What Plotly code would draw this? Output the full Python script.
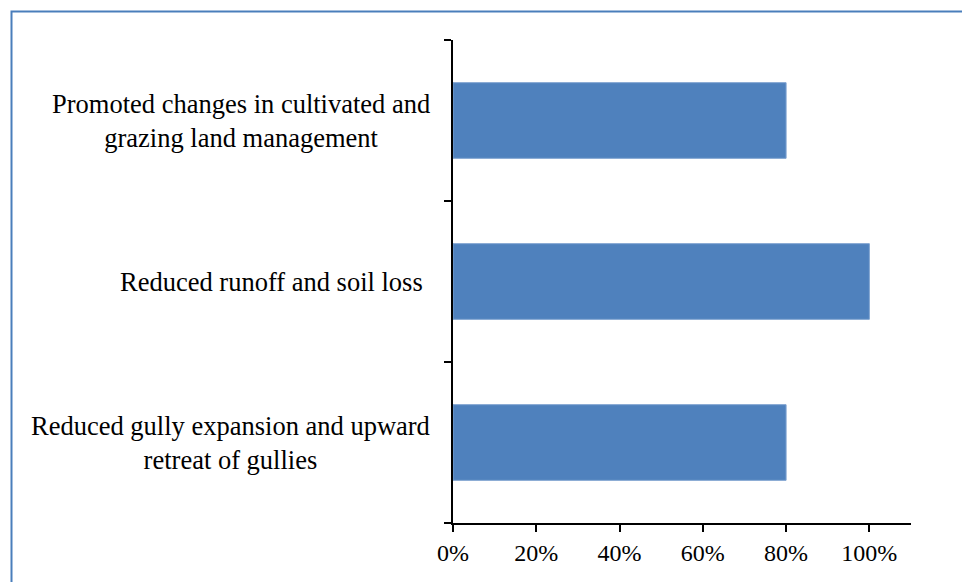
import plotly.graph_objects as go

categories = [
    "Reduced gully expansion and upward<br>retreat of gullies",
    "Reduced runoff and soil loss",
    "Promoted changes in cultivated and<br>grazing land management",
]
values = [0.8, 1.0, 0.8]
x_ticks = [0, 0.2, 0.4, 0.6, 0.8, 1.0]
x_tick_labels = ["0%", "20%", "40%", "60%", "80%", "100%"]

W, H = 962, 582
ML, MR, MT, MB = 453, 51, 40, 59
PW, PH = W - ML - MR, H - MT - MB
FONT = "Liberation Serif, Times New Roman, serif"
label_shifts = [-21, -28, -21]

fig = go.Figure()
fig.add_trace(go.Bar(
    x=values, y=categories, orientation="h",
    marker=dict(color="#4F81BD", line=dict(color="#7FA3D0", width=1)),
    hoverinfo="skip",
))

for c, s in zip(categories, label_shifts):
    fig.add_annotation(
        x=0, xref="paper", y=c, yref="y", xanchor="right", yanchor="middle",
        xshift=s, align="center", showarrow=False, text=c,
        font=dict(family=FONT, size=26.5, color="black"),
    )

# outer frame
fig.add_shape(
    type="rect", xref="paper", yref="paper", layer="below",
    x0=(11.5 - ML) / PW, x1=1 + (MR + 10) / PW,
    y0=-(MB + 10) / PH, y1=1 + (MT - 11.5) / PH,
    line=dict(color="#4A7EBB", width=2), fillcolor="rgba(0,0,0,0)",
)

fig.update_layout(
    width=W, height=H,
    margin=dict(l=ML, r=MR, t=MT, b=MB),
    paper_bgcolor="white", plot_bgcolor="white",
    bargap=0.53, showlegend=False,
    font=dict(family=FONT, size=24, color="black"),
)
fig.update_xaxes(
    range=[0, 1.1], tickvals=x_ticks, ticktext=x_tick_labels,
    showline=True, linecolor="black", linewidth=1.5,
    ticks="outside", ticklen=7, tickcolor="black", tickwidth=1.5,
    showgrid=False, zeroline=False,
    tickfont=dict(family=FONT, size=24, color="black"),
)
fig.update_yaxes(
    type="category", categoryorder="array", categoryarray=categories,
    range=[-0.5, 2.5], showticklabels=False,
    showline=True, linecolor="black", linewidth=1.5,
    ticks="outside", tickson="boundaries", ticklen=7, tickcolor="black", tickwidth=1.5,
    showgrid=False, zeroline=False,
)

fig.write_html("out.html")
